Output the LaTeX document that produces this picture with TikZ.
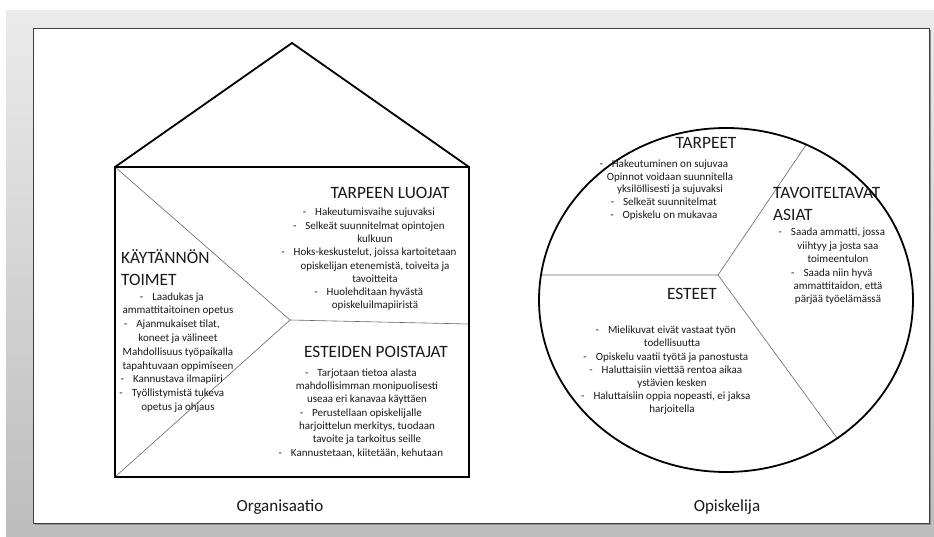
\documentclass[tikz,border=0pt]{standalone}
\usepackage{fontspec}
\setmainfont{Carlito}
\newcommand{\dsh}{\llap{-\hspace{9pt}}}
\begin{document}
\begin{tikzpicture}[x=1pt,y=-1pt,
  bodytxt/.style={font=\fontsize{11}{13.4}\selectfont, align=center, inner sep=0pt, text=black!90},
  headtxt/.style={font=\fontsize{17.3}{21.5}\selectfont, inner sep=0pt, text=black!90},
  captxt/.style={font=\fontsize{17}{21}\selectfont, inner sep=0pt, text=black!90},
  divider/.style={draw=black!60, line width=0.6pt},
  thick outline/.style={draw=black, line width=2.2pt, line join=miter}]
\useasboundingbox (0,0) rectangle (934,537);
\fill[white] (0,0) rectangle (934,537);
\shade[top color=black!8, bottom color=black!26] (6,11) rectangle (934,537);
% slide
\fill[black!45] (35,30) rectangle (931,525);
\fill[white] (33,28) rectangle (929,523);
\draw[black!75, line width=0.8pt] (33,28) rectangle (929,523);

% house
\coordinate (apex) at (292,43);
\coordinate (tl) at (115,167);
\coordinate (tr) at (469,167);
\coordinate (bl) at (115,477);
\coordinate (br) at (469,477);
\coordinate (hc) at (290,320);
\coordinate (hr) at (469,324);
\draw[divider] (tl) -- (hc) -- (bl);
\draw[divider] (hc) -- (hr);
\draw[black, line width=1.8pt, line join=miter] (tl) -- (apex) -- (tr);
\draw[thick outline] (tl) rectangle (br);

% circle
\coordinate (cc) at (726,300);
\coordinate (cj) at (718,275);
\coordinate (cl) at (541,275);
\coordinate (cu) at (806,145);
\coordinate (cd) at (837,438);
\draw[divider] (cl) -- (cj) -- (cu);
\draw[divider] (cj) -- (cd);
\draw[black, line width=1.8pt] (cc) ellipse [x radius=187, y radius=172];

% house texts
\node[headtxt, align=left, anchor=west] (kh) at (121,267.5) {KÄYTÄNNÖN\\TOIMET};
\node[bodytxt, font=\fontsize{11}{13.8}\selectfont] (kb) at (178,352.5) {\dsh Laadukas ja\\ammattitaitoinen opetus\\\dsh Ajanmukaiset tilat,\\koneet ja välineet\\Mahdollisuus työpaikalla\\tapahtuvaan oppimiseen\\\dsh Kannustava ilmapiiri\\\dsh Työllistymistä tukeva\\opetus ja ohjaus};

\node[headtxt] (th) at (390,193) {TARPEEN LUOJAT};
\node[bodytxt, font=\fontsize{11}{13.3}\selectfont] (tb) at (375,259.5) {\dsh Hakeutumisvaihe sujuvaksi\\\dsh Selkeät suunnitelmat opintojen\\kulkuun\\\dsh Hoks-keskustelut, joissa kartoitetaan\\opiskelijan etenemistä, toiveita ja\\tavoitteita\\\dsh Huolehditaan hyvästä\\opiskeluilmapiiristä};

\node[headtxt] (eh) at (376,352) {ESTEIDEN POISTAJAT};
\node[bodytxt, font=\fontsize{11}{13.3}\selectfont] (eb) at (367,413) {\dsh Tarjotaan tietoa alasta\\mahdollisimman monipuolisesti\\useaa eri kanavaa käyttäen\\\dsh Perustellaan opiskelijalle\\harjoittelun merkitys, tuodaan\\tavoite ja tarkoitus seille\\\dsh Kannustetaan, kiitetään, kehutaan};

% circle texts
\node[headtxt] (ph) at (706,143) {TARPEET};
\node[bodytxt, font=\fontsize{11}{12.9}\selectfont] (pb) at (670,190) {\dsh Hakeutuminen on sujuvaa\\\dsh Opinnot voidaan suunnitella\\yksilöllisesti ja sujuvaksi\\\dsh Selkeät suunnitelmat\\\dsh Opiskelu on mukavaa};

\node[headtxt, align=left, anchor=west] (vh) at (773,204) {TAVOITELTAVAT\\ASIAT};
\node[bodytxt, font=\fontsize{11}{13.4}\selectfont] (vb) at (838,266.5) {\dsh Saada ammatti, jossa\\viihtyy ja josta saa\\toimeentulon\\\dsh Saada niin hyvä\\ammattitaidon, että\\pärjää työelämässä};

\node[headtxt] (sh) at (692,294) {ESTEET};
\node[bodytxt, font=\fontsize{11}{13.2}\selectfont] (sb) at (672,370.5) {\dsh Mielikuvat eivät vastaat työn\\todellisuutta\\\dsh Opiskelu vaatii työtä ja panostusta\\\dsh Haluttaisiin viettää rentoa aikaa\\ystävien kesken\\\dsh Haluttaisiin oppia nopeasti, ei jaksa\\harjoitella};

% captions
\node[captxt] (org) at (280,507) {Organisaatio};
\node[captxt] (opi) at (727,507) {Opiskelija};
\end{tikzpicture}
\end{document}
